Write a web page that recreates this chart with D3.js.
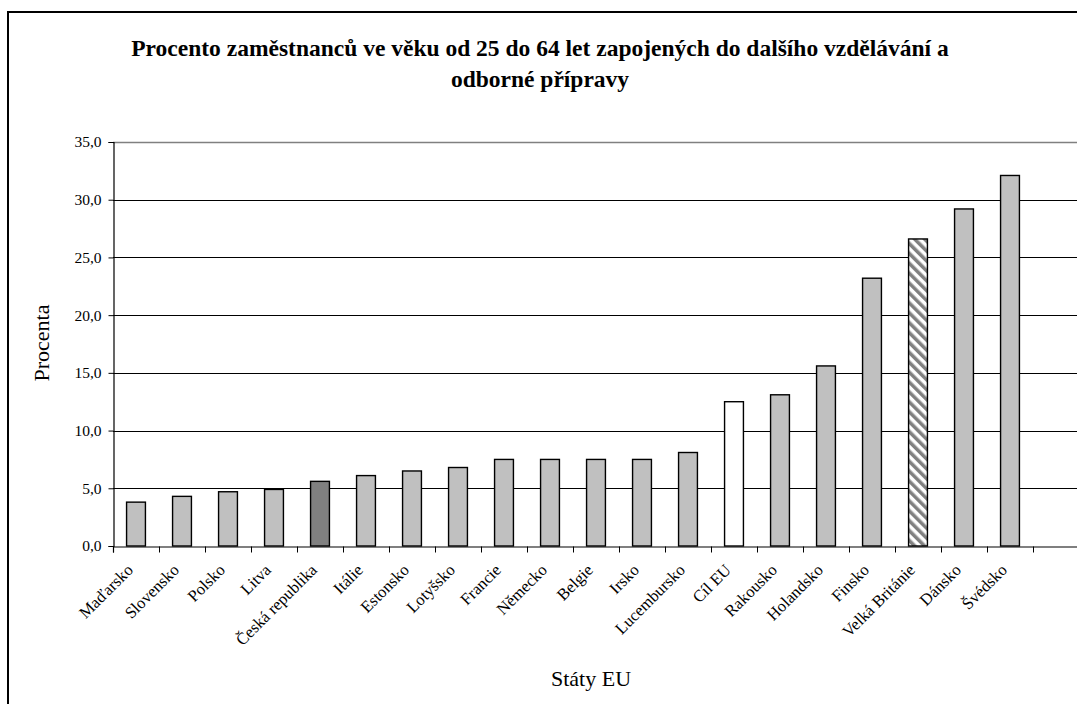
<!DOCTYPE html>
<html>
<head>
<meta charset="utf-8">
<script src="https://cdn.jsdelivr.net/npm/d3@7"></script>
<style>
  html, body { margin: 0; padding: 0; background: #fff; }
  svg { display: block; }
  text { font-family: "Liberation Serif", "Times New Roman", serif; fill: #000; }
</style>
</head>
<body>
<svg id="chart" width="1077" height="704"></svg>
<script>
const categories = ["Maďarsko", "Slovensko", "Polsko", "Litva", "Česká republika", "Itálie", "Estonsko", "Lotyšsko", "Francie", "Německo", "Belgie", "Irsko", "Lucembursko", "Cíl EU", "Rakousko", "Holandsko", "Finsko", "Velká Británie", "Dánsko", "Švédsko"];
const values = [3.8, 4.3, 4.7, 4.9, 5.6, 6.1, 6.5, 6.8, 7.5, 7.5, 7.5, 7.5, 8.1, 12.5, 13.1, 15.6, 23.2, 26.6, 29.2, 32.1];
const barStyle = ["gray", "gray", "gray", "gray", "dark", "gray", "gray", "gray", "gray", "gray", "gray", "gray", "gray", "white", "gray", "gray", "gray", "hatch", "gray", "gray"];
const yTicks = [0, 5, 10, 15, 20, 25, 30, 35];
const titleLines = ["Procento zaměstnanců ve věku od 25 do 64 let zapojených do dalšího vzdělávání a", "odborné přípravy"];
const yTitle = "Procenta";
const xTitle = "Státy EU";

(function () {
const svg = d3.select("#chart");
const mLeft = 113, mTop = 142, mBottom = 546, step = 46;
const slots = categories.length + 1; // one empty slot at the right end
const mRight = mLeft + slots * step;

// pattern
const defs = svg.append("defs");
const pat = defs.append("pattern").attr("id", "hatch").attr("patternUnits", "userSpaceOnUse")
  .attr("width", 7).attr("height", 7).attr("patternTransform", "rotate(-45)");
pat.append("rect").attr("width", 7).attr("height", 7).attr("fill", "#fff");
pat.append("rect").attr("width", 3.5).attr("height", 7).attr("fill", "#808080");

// frame
svg.append("rect").attr("x", 8).attr("y", 12).attr("width", 1100).attr("height", 720)
  .attr("fill", "none").attr("stroke", "#000").attr("stroke-width", 2);

const x = d3.scaleBand().domain(categories).range([mLeft, mLeft + categories.length * step]).paddingInner(0.59).paddingOuter(0.295);
const y = d3.scaleLinear().domain([0, 35]).range([mBottom, mTop]);

// gridlines
svg.append("g").selectAll("line").data(yTicks.filter(d => d > 0)).join("line")
  .attr("x1", mLeft).attr("x2", mRight)
  .attr("y1", d => Math.round(y(d)) + 0.5).attr("y2", d => Math.round(y(d)) + 0.5)
  .attr("stroke", d => d === 35 ? "#808080" : "#000")
  .attr("stroke-width", d => d === 35 ? 1.5 : 1);

// bars
const fills = { gray: "#C0C0C0", dark: "#808080", white: "#FFFFFF", hatch: "url(#hatch)" };
svg.append("g").selectAll("rect").data(categories).join("rect")
  .attr("x", d => x(d))
  .attr("y", (d, i) => y(values[i]))
  .attr("width", x.bandwidth())
  .attr("height", (d, i) => mBottom - y(values[i]))
  .attr("fill", (d, i) => fills[barStyle[i]])
  .attr("stroke", "#000").attr("stroke-width", 1.4);

// y axis
const yAxis = svg.append("g").attr("transform", `translate(${mLeft + 0.5},0)`)
  .call(d3.axisLeft(y).tickValues(yTicks).tickSize(5).tickPadding(7)
    .tickFormat(d => d3.format(".1f")(d).replace(".", ",")));
yAxis.select(".domain").attr("stroke", "#000").attr("stroke-width", 1.2);
yAxis.selectAll(".tick line").attr("stroke", "#000");
yAxis.selectAll("text").style("font-family", "'Liberation Serif', serif").style("font-size", "15.5px").attr("fill", "#000");

// x axis (ticks at category boundaries)
const xi = d3.scaleLinear().domain([0, slots]).range([mLeft, mRight]);
const xAxis = svg.append("g").attr("transform", `translate(0,${mBottom + 0.5})`)
  .call(d3.axisBottom(xi).tickValues(d3.range(0, slots + 1)).tickSize(6).tickFormat(""));
xAxis.select(".domain").attr("stroke", "#000").attr("stroke-width", 1.2);
xAxis.selectAll(".tick line").attr("stroke", "#000");

// x labels
svg.append("g").selectAll("text").data(categories).join("text")
  .attr("transform", d => `translate(${x(d) + x.bandwidth() / 2 - 2},${mBottom + 25}) rotate(-45)`)
  .attr("text-anchor", "end")
  .style("font-size", "16.5px")
  .text(d => d);

// title
svg.append("g").selectAll("text").data(titleLines).join("text")
  .attr("x", 540).attr("y", (d, i) => 56 + i * 31)
  .attr("text-anchor", "middle")
  .style("font-size", "23.5px").style("font-weight", "bold")
  .text(d => d);

// axis titles
svg.append("text").attr("transform", "translate(49,343) rotate(-90)")
  .attr("text-anchor", "middle").style("font-size", "22px").text(yTitle);
svg.append("text").attr("x", 591).attr("y", 686)
  .attr("text-anchor", "middle").style("font-size", "22px").text(xTitle);
})();
</script>
</body>
</html>
